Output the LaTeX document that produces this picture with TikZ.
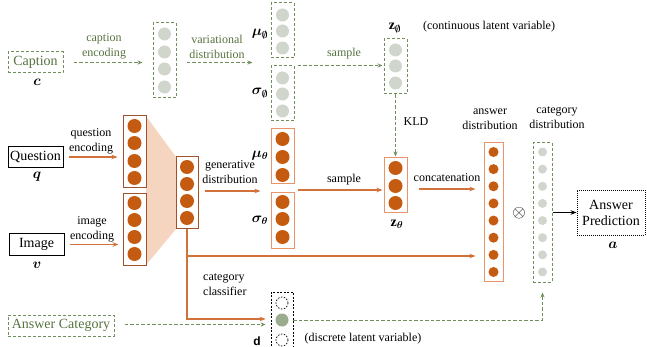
\documentclass[tikz,border=0pt]{standalone}
\usepackage{amsmath,amssymb,bm}
\usepackage{fontspec}
\setmainfont{Liberation Serif}
\newfontfamily\dsans{Liberation Sans}
\usetikzlibrary{arrows.meta,calc}
\definecolor{orfill}{HTML}{C55A11}
\definecolor{orbrown}{HTML}{A0522D}
\definecolor{orlight}{HTML}{E8956A}
\definecolor{orline}{HTML}{D2713A}
\definecolor{grline}{HTML}{6F8F5C}
\definecolor{grtext}{HTML}{56723F}
\definecolor{grfill}{HTML}{D0D6CC}
\definecolor{dfill}{HTML}{9AAB8E}
\definecolor{peach}{HTML}{F5D5C0}
\tikzset{
  colA/.style={draw=orbrown,line width=1pt,rectangle,inner sep=0pt},
  colB/.style={draw=orlight,line width=1pt,rectangle,inner sep=0pt},
  colG/.style={draw=grline,line width=1pt,dash pattern=on 3pt off 2pt,rectangle,inner sep=0pt},
  colD/.style={draw=black,line width=0.8pt,dash pattern=on 2pt off 1.5pt,rectangle,inner sep=0pt},
  ocirc/.style={circle,fill=orfill,minimum size=14pt,inner sep=0pt},
  ocircs/.style={circle,fill=orfill,minimum size=10pt,inner sep=0pt},
  gcirc/.style={circle,fill=grfill,minimum size=13pt,inner sep=0pt},
  gcircs/.style={circle,fill=grfill,minimum size=9pt,inner sep=0pt},
  oarrow/.style={draw=orline,line width=1.1pt,-{Stealth[length=6pt,width=4.5pt]}},
  garrow/.style={draw=grline,line width=1pt,dash pattern=on 3.5pt off 2pt,-{Stealth[length=5pt,width=4pt]}},
  lab/.style={font=\fontsize{12}{15}\selectfont,align=center,inner sep=0pt},
  mlab/.style={font=\fontsize{14}{16}\selectfont,inner sep=0pt},
  glab/.style={lab,text=grtext},
  boxtxt/.style={font=\fontsize{14}{16}\selectfont,inner sep=0pt,align=center},
}
\begin{document}
\begin{tikzpicture}[x=1pt,y=-1pt]
\useasboundingbox (0,0) rectangle (647,347);
% trapezoid fill
\fill[peach] (146,116) -- (176,157) -- (176,229) -- (146,265) -- cycle;
% input boxes
\node[boxtxt,draw=grline,line width=1pt,dash pattern=on 3pt off 2pt,text=grtext,minimum width=55pt,minimum height=21pt] (capbox) at (35.5,62.5) {Caption};
\node[mlab] (clab) at (37,82) {$\bm{c}$};
\node[boxtxt,draw=black,line width=1pt,minimum width=55pt,minimum height=21pt] (qbox) at (35.5,157) {Question};
\node[mlab] (qlab) at (37,177) {$\bm{q}$};
\node[boxtxt,draw=black,line width=1pt,minimum width=55pt,minimum height=22pt] (ibox) at (36.5,244.5) {Image};
\node[mlab] (vlab) at (37,265) {$\bm{v}$};
\node[boxtxt,draw=grline,line width=1pt,dash pattern=on 3pt off 2pt,text=grtext,minimum width=106pt,minimum height=21pt] (acbox) at (61,325.5) {Answer Category};
% caption column
\node[colG,minimum width=23pt,minimum height=75pt] (capcol) at (164.5,60.5) {};
\foreach \y [count=\i] in {34,52,69,87} \node[gcirc] (cc\i) at (164.5,\y) {};
% mu/sigma phi
\node[colG,minimum width=23pt,minimum height=55pt] (muphi) at (282.5,30.5) {};
\foreach \y [count=\i] in {15,31,48} \node[gcirc] (mp\i) at (282.5,\y) {};
\node[colG,minimum width=23pt,minimum height=55pt] (sigphi) at (282.5,93.5) {};
\foreach \y [count=\i] in {78,94,111} \node[gcirc] (sp\i) at (282.5,\y) {};
\node[mlab] (muphil) at (260,34) {$\bm{\mu}_{\bm{\emptyset}}$};
\node[mlab] (sigphil) at (260,93) {$\bm{\sigma}_{\bm{\emptyset}}$};
% z phi
\node[colG,minimum width=23pt,minimum height=55pt] (zphi) at (395.5,66.5) {};
\foreach \y [count=\i] in {50,66,83} \node[gcirc] (zp\i) at (395.5,\y) {};
\node[mlab] (zphil) at (395,28) {$\mathbf{z}_{\bm{\emptyset}}$};
\node[lab] (contl) at (489,27) {(continuous latent variable)};
% Q, I columns
\node[colA,minimum width=23pt,minimum height=72pt] (qcol) at (134.5,152) {};
\foreach \y [count=\i] in {126,143,161,178} \node[ocirc] (qc\i) at (134.5,\y) {};
\node[colA,minimum width=23pt,minimum height=71pt] (icol) at (134.5,229.5) {};
\foreach \y [count=\i] in {203,220,237,254} \node[ocirc] (ic\i) at (134.5,\y) {};
% fused
\node[colA,minimum width=22pt,minimum height=72pt] (fcol) at (187,193) {};
\foreach \y [count=\i] in {167,184,201,218} \node[ocirc] (fc\i) at (187,\y) {};
% mu/sigma theta
\node[colB,minimum width=23pt,minimum height=55pt] (muth) at (282.5,156.5) {};
\foreach \y [count=\i] in {139,157,175} \node[ocirc] (mt\i) at (282.5,\y) {};
\node[colB,minimum width=23pt,minimum height=55pt] (sigth) at (282.5,220.5) {};
\foreach \y [count=\i] in {202,219,237} \node[ocirc] (st\i) at (282.5,\y) {};
\node[mlab] (muthl) at (260,156) {$\bm{\mu}_{\bm{\theta}}$};
\node[mlab] (sigthl) at (260,220) {$\bm{\sigma}_{\bm{\theta}}$};
% z theta
\node[colB,minimum width=23pt,minimum height=55pt] (zth) at (395.5,185.5) {};
\foreach \y [count=\i] in {168,186,203} \node[ocirc] (zt\i) at (395.5,\y) {};
\node[mlab] (zthl) at (397,224) {$\mathbf{z}_{\bm{\theta}}$};
% answer distribution
\node[colB,minimum width=19pt,minimum height=138pt] (anscol) at (493.5,212) {};
\foreach \i in {0,...,7} \node[ocircs] (ac\i) at (493.5,{152+\i*17.14}) {};
\node[lab] (ansl) at (490,119) {answer\\distribution};
% category distribution
\node[colG,minimum width=19pt,minimum height=139pt] (catcol) at (542.5,212.5) {};
\foreach \i in {0,...,7} \node[gcircs] (gc\i) at (542.5,{152+\i*17.14}) {};
\node[lab] (catl) at (557,118) {category\\distribution};
\node[font=\fontsize{19}{20}\selectfont,inner sep=0pt] (otimes) at (519,213) {$\otimes$};
% answer prediction
\node[boxtxt,draw=black,line width=0.9pt,dash pattern=on 1pt off 1pt,minimum width=68pt,minimum height=45pt] (pred) at (611,212.5) {Answer\\Prediction};
\node[mlab] (alab) at (613,245) {$\bm{a}$};
% d column
\node[colD,minimum width=22pt,minimum height=58pt] (dcol) at (282,321) {};
\node[circle,draw=black,line width=0.7pt,dash pattern=on 1.5pt off 1.5pt,minimum size=12pt,inner sep=0pt] (dc1) at (282,303) {};
\node[circle,fill=dfill,minimum size=13pt,inner sep=0pt] (dc2) at (282,320) {};
\node[circle,draw=black,line width=0.7pt,dash pattern=on 1.5pt off 1.5pt,minimum size=12pt,inner sep=0pt] (dc3) at (282,340) {};
\node[inner sep=0pt,font=\dsans\bfseries\fontsize{12}{14}\selectfont] (dlab) at (257,341) {d};
\node[lab] (discl) at (363,339) {(discrete latent variable)};
% caption path
\draw[garrow,shorten <=10pt,shorten >=10pt] (capbox.east) -- (capbox.east -| capcol.west);
\node[glab] (capencl) at (104,46.5) {caption\\encoding};
\draw[garrow,shorten <=10pt,shorten >=18pt] (capcol.east |- capbox.east) -- (capbox.east -| muphi.west);
\node[glab] (varl) at (217,46.5) {variational\\distribution};
\draw[garrow,shorten <=3pt,shorten >=1pt] (sigphi.north east) -- (sigphi.north east -| zphi.west);
\node[glab] (samp1) at (344,54) {sample};
\draw[garrow,shorten >=1pt] (zphi.south) -- (zth.north);
\node[lab] (kldl) at (416,122) {KLD};
% question / image encodings
\draw[oarrow,shorten <=5pt,shorten >=5pt] (qbox.east) -- (qbox.east -| qcol.west);
\node[lab] (qencl) at (91,141.5) {question\\encoding};
\draw[oarrow,shorten <=5pt,shorten >=4pt] (ibox.east) -- (ibox.east -| icol.west);
\node[lab] (iencl) at (92,229.5) {image\\encoding};
% generative
\coordinate (gen0) at ($(fcol.east)+(0,-2)$);
\draw[oarrow,shorten <=6pt,shorten >=10pt] (gen0) -- (gen0 -| sigth.west);
\node[lab] (genl) at (230,172) {generative\\distribution};
\coordinate (gap) at ($(muth.south east)!0.5!(sigth.north east)+(0,1.5)$);
\draw[oarrow,shorten <=3pt,shorten >=1pt] (gap) -- (gap -| zth.west);
\node[lab] (samp2) at (344,180) {sample};
\coordinate (cat0) at ($(zth.east)+(0,3.5)$);
\draw[oarrow,shorten <=11pt,shorten >=8pt] (cat0) -- (cat0 -| anscol.west);
\node[lab] (concl) at (447,178) {concatenation};
% branch to answer distribution
\coordinate (br) at (187,256);
\draw[draw=orline,line width=1.1pt] (fcol.south) -- (br);
\draw[oarrow,shorten >=8pt] (br) -- (br -| anscol.west);
% category classifier
\coordinate (cl) at (187,319);
\draw[oarrow,shorten >=5pt] (br) -- (cl) -- (cl -| dcol.west);
\node[lab,align=left,anchor=west] (classl) at (203,285) {category\\classifier};
% answer category to d
\coordinate (ac0) at ($(acbox.east)+(0,-1)$);
\draw[garrow,shorten <=10pt,shorten >=5pt] (ac0) -- (ac0 -| dcol.west);
% d to category distribution
\draw[garrow,shorten >=10pt] (dcol.east |- dc2) -| (catcol.south);
% to prediction
\draw[black,line width=1pt,-{Stealth[length=6pt,width=4.5pt]}] (catcol.east) -- (pred.west);
\end{tikzpicture}
\end{document}
